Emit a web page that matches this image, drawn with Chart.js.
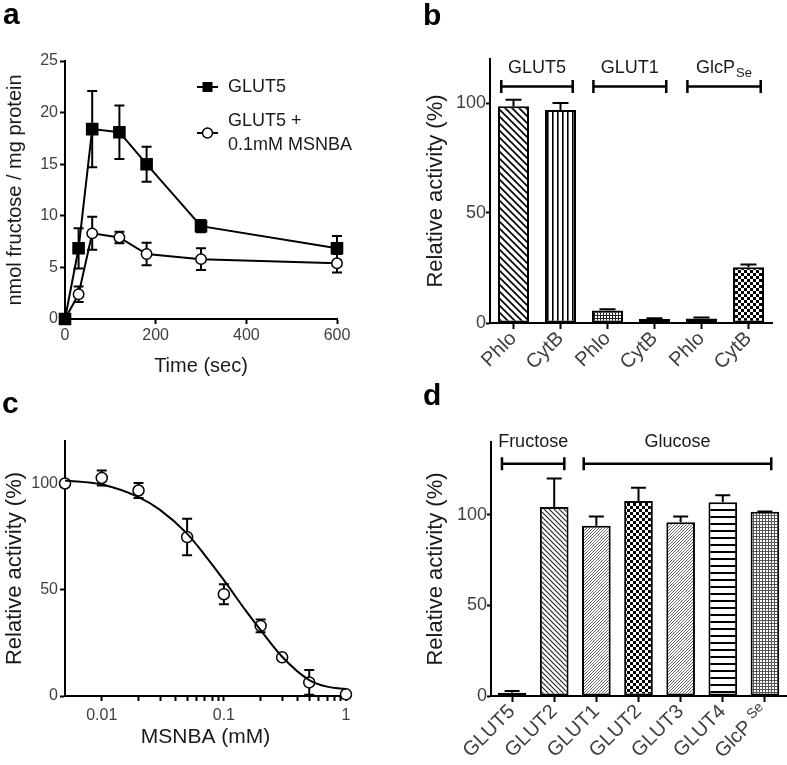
<!DOCTYPE html>
<html>
<head>
<meta charset="utf-8">
<script src="https://cdn.jsdelivr.net/npm/chart.js@4.4.1/dist/chart.umd.min.js"></script>
<style>
  body { margin: 0; background: #fff; }
  #page { position: relative; width: 787px; height: 765px; overflow: hidden; }
  #page canvas { position: absolute; }
  .tag { position: absolute; font: bold 30px "Liberation Sans", Arial, sans-serif; line-height: 30px; color: #000; }
</style>
</head>
<body>
<div id="page">
  <canvas id="chartA" width="390" height="380" style="left:0;top:0"></canvas>
  <canvas id="chartB" width="397" height="380" style="left:390px;top:0"></canvas>
  <canvas id="chartC" width="390" height="385" style="left:0;top:380px"></canvas>
  <canvas id="chartD" width="397" height="385" style="left:390px;top:380px"></canvas>
  <div class="tag" style="left:3px;top:-1px">a</div>
  <div class="tag" style="left:423px;top:0">b</div>
  <div class="tag" style="left:2px;top:388px">c</div>
  <div class="tag" style="left:423px;top:380px">d</div>
</div>
<script>
// panel a: uptake time course
const timeSec = [0, 30, 60, 120, 180, 300, 600];
const glut5Uptake = [0, 6.85, 18.4, 18.1, 15.0, 9.0, 6.85];
const glut5Err = [0, 1.95, 3.7, 2.6, 1.7, 0.6, 1.2];
const msnbaUptake = [0, 2.4, 8.3, 7.9, 6.3, 5.8, 5.4];
const msnbaErr = [0, 0.75, 1.6, 0.55, 1.1, 1.05, 0.9];

// panel b: inhibitors
const inhibitorLabels = ['Phlo', 'CytB', 'Phlo', 'CytB', 'Phlo', 'CytB'];
const inhibitorActivity = [98.5, 96.8, 5.7, 1.8, 2.1, 25.3];
const inhibitorErr = [3.0, 3.2, 0.5, 0.4, 0.4, 1.3];

// panel c: MSNBA dose response
const msnbaConc = [0.005, 0.01, 0.02, 0.05, 0.1, 0.2, 0.3, 0.5, 1];
const doseActivity = [100, 102.6, 96.7, 74.8, 47.9, 33, 18.2, 6.4, 0.8];
const doseErr = [0, 3.5, 3.5, 8.6, 4.7, 3, 0, 5.8, 0];
const fitConc = [0.005, 0.01, 0.02, 0.03, 0.05, 0.07, 0.1, 0.15, 0.2, 0.3, 0.5, 0.7, 1];
const fitActivity = [101.4, 99.5, 93.6, 87.6, 76.4, 66.2, 54.5, 40.4, 31, 18.5, 7.5, 4.4, 3.3];

// panel d: transporter selectivity
const transporterLabels = ['GLUT5', 'GLUT2', 'GLUT1', 'GLUT2', 'GLUT3', 'GLUT4', 'GlcP'];
const transporterSuffix = 'Se';   // small text after the last label
const transporterActivity = [1.8, 104.2, 93.8, 107.5, 95.8, 106.8, 101.5];
const transporterErr = [0.9, 15.7, 5.2, 7.3, 3.1, 3.8, 0.2];

const FONT = '"Liberation Sans", Arial, Helvetica, sans-serif';
const TICK_COLOR = '#404040';
const TITLE_COLOR = '#1a1a1a';

Chart.defaults.font.family = FONT;
Chart.defaults.color = TICK_COLOR;
Chart.defaults.animation = false;
Chart.defaults.responsive = false;
Chart.defaults.plugins.legend.display = false;
Chart.defaults.plugins.tooltip.enabled = false;

// hatch fills
function makePattern(size, draw) {
    const c = document.createElement('canvas');
    c.width = size;
    c.height = size;
    const g = c.getContext('2d');
    g.fillStyle = '#fff';
    g.fillRect(0, 0, size, size);
    g.fillStyle = '#000';
    g.strokeStyle = '#000';
    draw(g, size);
    return g.createPattern(c, 'repeat');
}
function diagDown(size, lw, color) {
    return makePattern(size, (g, s) => {
        g.strokeStyle = color; g.lineWidth = lw;
        g.beginPath();
        g.moveTo(-1, -1); g.lineTo(s + 1, s + 1);
        g.moveTo(-1, s - 1); g.lineTo(1, s + 1);
        g.moveTo(s - 1, -1); g.lineTo(s + 1, 1);
        g.stroke();
    });
}
function diagUp(size, lw, color) {
    return makePattern(size, (g, s) => {
        g.strokeStyle = color; g.lineWidth = lw;
        g.beginPath();
        g.moveTo(-1, s + 1); g.lineTo(s + 1, -1);
        g.moveTo(-1, 1); g.lineTo(1, -1);
        g.moveTo(s - 1, s + 1); g.lineTo(s + 1, s - 1);
        g.stroke();
    });
}
const vertical = makePattern(5, (g, s) => g.fillRect(2, 0, 1.6, s));
const horizontal = makePattern(7, (g, s) => g.fillRect(0, 3, s, 2));
const checker = makePattern(6, (g) => { g.fillRect(0, 0, 3, 3); g.fillRect(3, 3, 3, 3); });
const dots = makePattern(3, (g) => { g.fillStyle = '#333'; g.fillRect(1, 1, 1.5, 1.5); });
function grid(size, color) {
    return makePattern(size, (g, s) => { g.fillStyle = color; g.fillRect(0, 0, s, 1); g.fillRect(0, 0, 1, s); });
}

const inhibitorFills = [diagDown(7, 1.7, '#000'), vertical, grid(3, '#222'), dots, dots, checker];
const transporterFills = [dots, diagDown(5, 1.1, '#222'), diagUp(3, 0.8, '#444'), checker,
    diagUp(3, 0.8, '#444'), horizontal, grid(3, '#555')];

// plugins
const errorBars = {
    id: 'errorBars',
    beforeDatasetsDraw(chart, args, opts) {
        const ctx = chart.ctx;
        const yScale = chart.scales.y;
        const half = (opts.cap || 10) / 2;
        ctx.save();
        ctx.strokeStyle = '#000';
        ctx.lineWidth = 2;
        chart.data.datasets.forEach((ds, i) => {
            if (!ds.errors) return;
            chart.getDatasetMeta(i).data.forEach((el, j) => {
                const err = ds.errors[j];
                if (!err) return;
                const raw = ds.data[j];
                const v = typeof raw === 'object' ? raw.y : raw;
                const top = yScale.getPixelForValue(v + err);
                const bottom = yScale.getPixelForValue(opts.upOnly ? v : v - err);
                ctx.beginPath();
                ctx.moveTo(el.x, top); ctx.lineTo(el.x, bottom);
                ctx.moveTo(el.x - half, top); ctx.lineTo(el.x + half, top);
                if (!opts.upOnly) {
                    ctx.moveTo(el.x - half, bottom); ctx.lineTo(el.x + half, bottom);
                }
                ctx.stroke();
            });
        });
        ctx.restore();
    }
};

const brackets = {
    id: 'brackets',
    afterDraw(chart, args, opts) {
        if (!opts.groups) return;
        const ctx = chart.ctx;
        const xs = chart.scales.x, ys = chart.scales.y;
        const ly = ys.getPixelForValue(opts.lineAt);
        const ty = ys.getPixelForValue(opts.labelAt);
        ctx.save();
        ctx.strokeStyle = '#000';
        ctx.lineWidth = 2.5;
        ctx.fillStyle = TITLE_COLOR;
        ctx.textBaseline = 'middle';
        ctx.textAlign = 'left';
        for (const g of opts.groups) {
            const x0 = xs.getPixelForValue(g.from);
            const x1 = xs.getPixelForValue(g.to);
            ctx.beginPath();
            ctx.moveTo(x0, ly); ctx.lineTo(x1, ly);
            ctx.moveTo(x0, ly - 6.5); ctx.lineTo(x0, ly + 6.5);
            ctx.moveTo(x1, ly - 6.5); ctx.lineTo(x1, ly + 6.5);
            ctx.stroke();
            ctx.font = '18px ' + FONT;
            const w1 = ctx.measureText(g.label).width;
            let w2 = 0;
            if (g.sub) {
                ctx.font = '13px ' + FONT;
                w2 = ctx.measureText(g.sub).width + 1;
            }
            const sx = (x0 + x1) / 2 - (w1 + w2) / 2;
            ctx.font = '18px ' + FONT;
            ctx.fillText(g.label, sx, ty);
            if (g.sub) {
                ctx.font = '13px ' + FONT;
                ctx.fillText(g.sub, sx + w1 + 1, ty + 6);
            }
        }
        ctx.restore();
    }
};

// small raised text at the end of one rotated x label
const labelSuffix = {
    id: 'labelSuffix',
    afterDraw(chart, args, opts) {
        if (!opts.text) return;
        const xs = chart.scales.x;
        const items = xs.getLabelItems ? xs.getLabelItems() : null;
        const it = items && items[opts.index];
        if (!it) return;
        const o = it.options;
        const ctx = chart.ctx;
        ctx.save();
        ctx.translate(o.translation[0], o.translation[1]);
        ctx.rotate(o.rotation);
        ctx.font = opts.size + 'px ' + FONT;
        ctx.fillStyle = TICK_COLOR;
        ctx.textAlign = 'right';
        ctx.textBaseline = o.textBaseline;
        ctx.fillText(opts.text, 0, it.textOffset + opts.raise);
        ctx.restore();
    }
};

const seriesKey = {
    id: 'seriesKey',
    afterDraw(chart, args, opts) {
        if (!opts.rows) return;
        const ctx = chart.ctx;
        ctx.save();
        chart.data.datasets.forEach((ds, i) => {
            const y = opts.rows[i];
            ctx.strokeStyle = '#000';
            ctx.lineWidth = 2;
            ctx.beginPath();
            ctx.moveTo(opts.x, y); ctx.lineTo(opts.x + opts.len, y);
            ctx.stroke();
            const mx = opts.x + opts.len / 2;
            if (ds.pointStyle === 'rect') {
                ctx.fillStyle = '#000';
                ctx.fillRect(mx - 5, y - 5, 10, 10);
            } else {
                ctx.fillStyle = '#fff';
                ctx.lineWidth = 1.5;
                ctx.beginPath();
                ctx.arc(mx, y, 5, 0, Math.PI * 2);
                ctx.fill(); ctx.stroke();
            }
            const lines = ds.label.split('\n');
            ctx.fillStyle = TITLE_COLOR;
            ctx.font = '18px ' + FONT;
            ctx.textBaseline = 'middle';
            lines.forEach((t, k) => {
                ctx.fillText(t, opts.textX, y + (k - (lines.length - 1) / 2) * opts.lineGap);
            });
        });
        ctx.restore();
    }
};

// shared axis look
function axis(o) {
    return Object.assign({
        border: { color: '#000', width: 2 },
        grid: { drawOnChartArea: false, drawTicks: true, tickLength: o.tickLength, tickColor: '#000', tickWidth: 2, offset: false },
        ticks: Object.assign({ font: { size: o.fontSize }, padding: o.padding, color: TICK_COLOR }, o.ticks || {}),
        title: o.title
            ? { display: true, text: o.title, color: TITLE_COLOR, font: { size: o.titleSize }, padding: o.titlePadding }
            : { display: false }
    }, o.extra || {});
}
function fixWidth(w) {
    return s => { s.width = w; s.paddingTop = 0; s.paddingBottom = 0; };
}
function fixHeight(h) {
    return s => { s.height = h; s.paddingLeft = 0; s.paddingRight = 0; };
}
function onlyTicks(values) {
    return s => { s.ticks = values.map(v => ({ value: v })); };
}

// a
new Chart(document.getElementById('chartA'), {
    type: 'scatter',
    data: {
        datasets: [{
            label: 'GLUT5',
            data: timeSec.map((t, i) => ({ x: t, y: glut5Uptake[i] })),
            errors: glut5Err,
            showLine: true,
            borderColor: '#000', borderWidth: 2,
            pointStyle: 'rect', pointRadius: 7.5,
            pointBackgroundColor: '#000', pointBorderColor: '#000',
            clip: false
        }, {
            label: 'GLUT5 +\n0.1mM MSNBA',
            data: timeSec.map((t, i) => ({ x: t, y: msnbaUptake[i] })),
            errors: msnbaErr,
            showLine: true,
            borderColor: '#000', borderWidth: 2,
            pointStyle: 'circle', pointRadius: 5.2, pointBorderWidth: 1.5,
            pointBackgroundColor: '#fff', pointBorderColor: '#000',
            clip: false
        }]
    },
    options: {
        layout: { padding: { left: 0, top: 61, right: 53, bottom: 0 } },
        scales: {
            x: axis({ tickLength: 5, fontSize: 16, padding: 2, title: 'Time (sec)', titleSize: 20,
                titlePadding: { top: 0, bottom: 2 },
                ticks: { stepSize: 200 },
                extra: { min: 0, max: 600, afterFit: fixHeight(61) } }),
            y: axis({ tickLength: 5, fontSize: 16, padding: 2, title: 'nmol fructose / mg protein', titleSize: 20,
                titlePadding: { top: 3, bottom: 0 },
                ticks: { stepSize: 5 },
                extra: { min: 0, max: 25, afterFit: fixWidth(65) } })
        },
        plugins: {
            errorBars: { cap: 10 },
            seriesKey: { x: 197, len: 21, textX: 228, rows: [87, 133], lineGap: 24 }
        }
    },
    plugins: [errorBars, seriesKey]
});

// b
new Chart(document.getElementById('chartB'), {
    type: 'bar',
    data: {
        labels: inhibitorLabels,
        datasets: [{
            data: inhibitorActivity,
            errors: inhibitorErr,
            backgroundColor: inhibitorFills,
            borderColor: '#000',
            borderWidth: 2,
            borderSkipped: false,
            barPercentage: 0.66,
            categoryPercentage: 1
        }]
    },
    options: {
        layout: { padding: { left: 0, top: 59, right: 15, bottom: 0 } },
        scales: {
            x: axis({ tickLength: 6, fontSize: 20, padding: -2,
                ticks: { minRotation: 45, maxRotation: 45, autoSkip: false },
                extra: { afterFit: fixHeight(57) } }),
            y: axis({ tickLength: 4, fontSize: 18, padding: 0, title: 'Relative activity (%)', titleSize: 22,
                titlePadding: { top: 33, bottom: 0 },
                extra: { min: 0, max: 120, afterBuildTicks: onlyTicks([0, 50, 100]), afterFit: fixWidth(100) } })
        },
        plugins: {
            errorBars: { cap: 16, upOnly: true },
            brackets: {
                lineAt: 107.5, labelAt: 116,
                groups: [
                    { from: -0.26, to: 1.26, label: 'GLUT5' },
                    { from: 1.7, to: 3.25, label: 'GLUT1' },
                    { from: 3.7, to: 5.26, label: 'GlcP', sub: 'Se' }
                ]
            }
        }
    },
    plugins: [errorBars, brackets]
});

// c
const isDecade = v => Math.abs(Math.log10(v) - Math.round(Math.log10(v))) < 1e-6;
new Chart(document.getElementById('chartC'), {
    type: 'scatter',
    data: {
        datasets: [{
            label: 'fit',
            data: fitConc.map((x, i) => ({ x: x, y: fitActivity[i] })),
            showLine: true,
            borderColor: '#000', borderWidth: 2,
            pointRadius: 0,
            cubicInterpolationMode: 'monotone',
            clip: false
        }, {
            label: 'MSNBA',
            data: msnbaConc.map((x, i) => ({ x: x, y: doseActivity[i] })),
            errors: doseErr,
            showLine: false,
            pointStyle: 'circle', pointRadius: 5.5, pointBorderWidth: 1.5,
            pointBackgroundColor: '#fff', pointBorderColor: '#000',
            clip: false
        }]
    },
    options: {
        layout: { padding: { left: 0, top: 61, right: 44, bottom: 0 } },
        scales: {
            x: axis({ tickLength: 5, fontSize: 16, padding: 5, title: 'MSNBA (mM)', titleSize: 21,
                titlePadding: { top: 0, bottom: 15 },
                ticks: { autoSkip: false, maxRotation: 0, callback: v => isDecade(v) ? String(Number(v.toPrecision(1))) : '' },
                extra: {
                    type: 'logarithmic', min: 0.005, max: 1,
                    afterBuildTicks: s => {
                        s.ticks = s.ticks.filter(t => {
                            const sig = t.value / Math.pow(10, Math.floor(Math.log10(t.value) + 1e-9));
                            return t.value >= 0.0099 && Math.abs(sig - Math.round(sig)) < 1e-6;
                        });
                    },
                    afterFit: fixHeight(69)
                } }),
            y: axis({ tickLength: 5, fontSize: 16, padding: 2, title: 'Relative activity (%)', titleSize: 22,
                titlePadding: { top: 2, bottom: 0 },
                extra: { min: 0, max: 120, afterBuildTicks: onlyTicks([0, 50, 100]), afterFit: fixWidth(65) } })
        },
        plugins: {
            errorBars: { cap: 10 }
        }
    },
    plugins: [errorBars]
});

// d
new Chart(document.getElementById('chartD'), {
    type: 'bar',
    data: {
        labels: transporterLabels,
        datasets: [{
            data: transporterActivity,
            errors: transporterErr,
            backgroundColor: transporterFills,
            borderColor: '#000',
            borderWidth: 2,
            borderSkipped: false,
            barPercentage: 0.68,
            categoryPercentage: 1
        }]
    },
    options: {
        layout: { padding: { left: 0, top: 62, right: 1, bottom: 0 } },
        scales: {
            x: axis({ tickLength: 6, fontSize: 20, padding: -2,
                ticks: {
                    minRotation: 45, maxRotation: 45, autoSkip: false,
                    callback: function (v, i) {
                        const l = this.getLabelForValue(v);
                        return i === transporterLabels.length - 1 ? l + '    ' : l;
                    }
                },
                extra: { afterFit: fixHeight(69) } }),
            y: axis({ tickLength: 4, fontSize: 18, padding: 0, title: 'Relative activity (%)', titleSize: 22,
                titlePadding: { top: 33, bottom: 0 },
                extra: { min: 0, max: 140, afterBuildTicks: onlyTicks([0, 50, 100]), afterFit: fixWidth(101) } })
        },
        plugins: {
            errorBars: { cap: 15, upOnly: true },
            brackets: {
                lineAt: 128, labelAt: 140,
                groups: [
                    { from: -0.24, to: 1.24, label: 'Fructose' },
                    { from: 1.7, to: 6.15, label: 'Glucose' }
                ]
            },
            labelSuffix: { index: transporterLabels.length - 1, text: transporterSuffix, size: 14, raise: -5 }
        }
    },
    plugins: [errorBars, brackets, labelSuffix]
});
</script>
</body>
</html>
